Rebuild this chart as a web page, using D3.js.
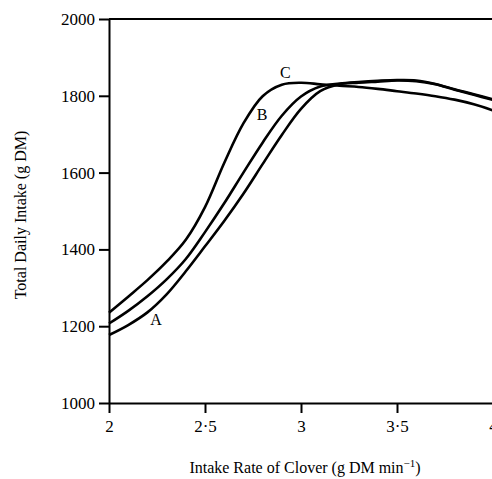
<!DOCTYPE html>
<html>
<head>
<script src="https://d3js.org/d3.v7.min.js"></script>
<style>
  body { margin: 0; background: #fff; }
  text { font-family: "Liberation Serif", "DejaVu Serif", serif; fill: #000; }
</style>
</head>
<body>
<div id="chart"></div>
<script>
    const margin = {top: 19, right: -1, bottom: 76, left: 109},
        width = 492 - margin.left - margin.right,
        height = 479 - margin.top - margin.bottom;

    // data
    const xValues = [2.0, 2.1, 2.2, 2.3, 2.4, 2.5, 2.6, 2.7, 2.8, 2.9, 3.0,
                     3.1, 3.2, 3.3, 3.4, 3.5, 3.6, 3.7, 3.8, 3.9, 4.0];
    const curveA = [1177, 1203, 1236, 1283, 1343, 1408, 1474, 1545, 1622, 1698, 1766,
                    1812, 1830, 1834, 1837, 1840, 1838, 1830, 1816, 1803, 1789];
    const curveB = [1207, 1240, 1278, 1322, 1375, 1445, 1520, 1600, 1678, 1748, 1798,
                    1824, 1832, 1836, 1839, 1841, 1840, 1831, 1817, 1804, 1791];
    const curveC = [1235, 1277, 1320, 1368, 1425, 1510, 1625, 1728, 1799, 1829, 1834,
                    1830, 1826, 1823, 1818, 1812, 1806, 1799, 1790, 1778, 1762];
    const seriesNames = ["A", "B", "C"];
    const labelPos = [[2.245, 1219], [2.797, 1752], [2.919, 1861]];
    const xTicks = [2, 2.5, 3, 3.5, 4];
    const yTicks = [1000, 1200, 1400, 1600, 1800, 2000];

    const series = [curveA, curveB, curveC].map((vals, i) => ({
        name: seriesNames[i],
        values: xValues.map((x, j) => ({x: x, y: vals[j]}))
    }));

    const svg = d3.select("#chart")
        .append("svg")
        .attr("width", 492)
        .attr("height", 479)
        .append("g")
        .attr("transform", `translate(${margin.left},${margin.top})`);

    const x = d3.scaleLinear().domain([2, 4]).range([0, width]);
    const y = d3.scaleLinear().domain([1000, 2000]).range([height, 0]);

    // axes
    const xAxis = svg.append("g")
        .attr("transform", `translate(0, ${height})`)
        .call(d3.axisBottom(x).tickValues(xTicks).tickSize(10).tickSizeOuter(0).tickPadding(7)
            .tickFormat(d => String(d).replace(".", "\u00b7")));
    const yAxis = svg.append("g")
        .call(d3.axisLeft(y).tickValues(yTicks).tickSize(10).tickSizeOuter(0).tickPadding(4)
            .tickFormat(d3.format("d")));

    [xAxis, yAxis].forEach(a => {
        a.select(".domain").attr("stroke", "#000").attr("stroke-width", 2);
        a.selectAll(".tick line").attr("stroke", "#000").attr("stroke-width", 2);
        a.selectAll(".tick text").style("font-size", "17px").attr("fill", "#000");
    });

    // top frame line
    svg.append("line")
        .attr("x1", 0).attr("x2", width)
        .attr("y1", 0).attr("y2", 0)
        .attr("stroke", "#000").attr("stroke-width", 2);

    // curves
    const line = d3.line()
        .x(d => x(d.x))
        .y(d => y(d.y))
        .curve(d3.curveCatmullRom.alpha(0.5));

    svg.selectAll(".curve")
        .data(series)
        .join("path")
        .attr("class", "curve")
        .attr("d", d => line(d.values))
        .attr("fill", "none")
        .attr("stroke", "#000")
        .attr("stroke-width", 2.6);

    // curve labels
    svg.selectAll(".lbl")
        .data(series)
        .join("text")
        .attr("class", "lbl")
        .attr("x", (d, i) => x(labelPos[i][0]))
        .attr("y", (d, i) => y(labelPos[i][1]))
        .attr("text-anchor", "middle")
        .attr("dy", "0.35em")
        .style("font-size", "16px")
        .text(d => d.name);

    // axis titles
    svg.append("text")
        .attr("transform", `translate(${20 - margin.left}, ${215 - margin.top}) rotate(-90)`)
        .attr("text-anchor", "middle")
        .attr("dy", "0.35em")
        .style("font-size", "16px")
        .text("Total Daily Intake (g DM)");

    svg.append("text")
        .attr("x", 305 - margin.left)
        .attr("y", 473 - margin.top)
        .attr("text-anchor", "middle")
        .style("font-size", "16px")
        .html("Intake Rate of Clover (g DM min<tspan dy='-6' font-size='11px'>\u22121</tspan><tspan dy='6'>)</tspan>");
</script>
</body>
</html>
